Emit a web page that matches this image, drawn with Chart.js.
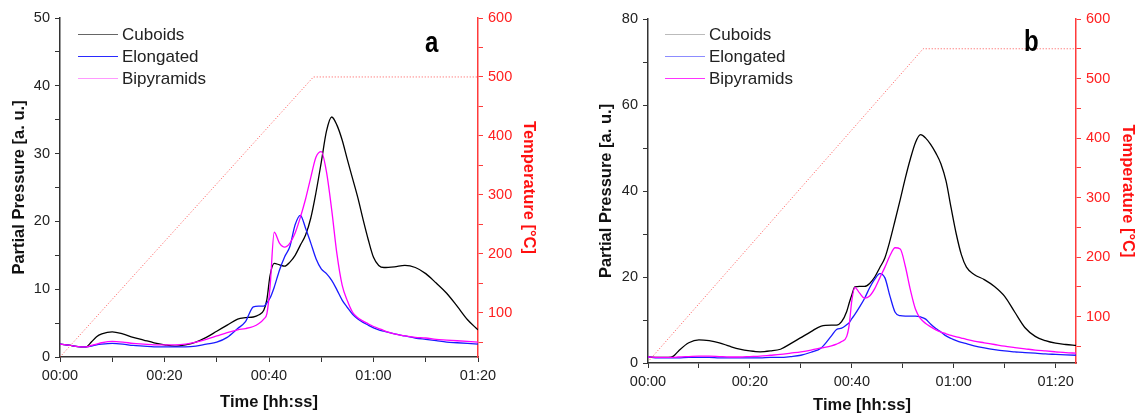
<!DOCTYPE html>
<html>
<head>
<meta charset="utf-8">
<script src="https://cdn.jsdelivr.net/npm/chart.js@4.4.0/dist/chart.umd.min.js"></script>
<style>
  html, body { margin: 0; padding: 0; background: #fff; }
  #wrap { position: relative; width: 1137px; height: 419px; overflow: hidden; font-family: "Liberation Sans", Arial, sans-serif; }
  .panel { position: absolute; top: 0; height: 419px; }
  #panelA { left: 0; width: 560px; }
  #panelB { left: 587px; width: 550px; }
  .panel canvas { position: absolute; left: 0; top: 0; }
  .legend-row { position: absolute; height: 22px; line-height: 22px; font-size: 17px; color: #222; white-space: nowrap; }
  .legend-row .swatch { position: absolute; left: 0; top: 10px; width: 40px; height: 0; border-top: 1.3px solid; }
  .legend-row .name { position: absolute; left: 44px; top: 0; }
  .tag { position: absolute; font: bold 30px "Liberation Sans", Arial, sans-serif; line-height: 30px; color: #000; transform: scaleX(0.8); transform-origin: left top; }
</style>
</head>
<body>
<div id="wrap">
  <div class="panel" id="panelA"><canvas id="chartA" width="560" height="419"></canvas></div>
  <div class="panel" id="panelB"><canvas id="chartB" width="550" height="419"></canvas></div>
  <div class="tag" style="left:425px; top:27px;">a</div>
  <div class="tag" style="left:1024px; top:26px;">b</div>
</div>
<script>
// Series names and time tick labels (minutes 0, 20, 40, 60, 80)
const seriesNames = ['Cuboids', 'Elongated', 'Bipyramids'];
const timeLabels = ['00:00', '00:20', '00:40', '01:00', '01:20'];

// Run a: time in minutes, partial pressures in a.u.
const timeA = [0, 2, 4, 5, 6, 7, 8,
  10, 12, 14, 16, 18, 20, 22, 24, 26, 28, 30, 32, 34,
  35.5, 37, 38, 39, 39.6, 40.2, 41, 42, 43, 44, 45, 46, 47, 48, 49, 50, 51, 52, 53, 54, 55, 56, 57, 58, 59, 60, 61, 62,
  64, 66, 68, 70, 72, 74, 76, 78, 80];
const cuboidsA = [1.9, 1.7, 1.5, 1.5, 2.2, 3.0, 3.4,
  3.7, 3.4, 2.9, 2.5, 2.1, 1.8, 1.6, 1.8, 2.2, 2.9, 3.8, 4.7, 5.6,
  5.8, 5.9, 6.2, 6.9, 8.5, 12.0, 13.8, 13.6, 13.4, 14.0, 15.0, 16.5, 18.0, 20.5, 24.3, 28.7, 33.3, 35.4, 34.2, 32.0, 29.1, 26.3, 23.5, 20.3, 17.3, 14.7, 13.5, 13.2,
  13.3, 13.5, 13.2, 12.3, 10.9, 9.4, 7.5, 5.5, 4.0];
const elongatedA = [1.9, 1.7, 1.5, 1.5, 1.6, 1.8, 1.9,
  2.0, 1.9, 1.7, 1.6, 1.5, 1.5, 1.5, 1.5, 1.6, 1.9, 2.2, 2.9, 4.2,
  5.2, 7.4, 7.5, 7.5, 8.0, 8.7, 10.3, 12.8, 14.8, 16.3, 19.5, 20.9, 19.0, 16.8, 14.5, 13.0, 12.3, 11.3, 9.9, 8.4, 7.3, 6.3, 5.6, 5.1, 4.7, 4.3, 4.0, 3.8,
  3.4, 3.1, 2.8, 2.6, 2.4, 2.2, 2.1, 2.0, 1.9];
const bipyramidsA = [1.9, 1.7, 1.5, 1.5, 1.7, 1.9, 2.1,
  2.3, 2.2, 2.0, 1.9, 1.8, 1.8, 1.8, 1.9, 2.2, 2.6, 3.1, 3.6, 4.0,
  4.2, 4.5, 4.9, 5.6, 6.4, 10.3, 18.4, 16.8, 16.2, 16.8, 18.3, 20.6, 23.3, 26.5, 29.5, 30.3, 27.3, 21.7, 15.2, 10.6, 8.3, 6.6, 5.8, 5.3, 4.9, 4.5, 4.2, 3.9,
  3.4, 3.1, 2.9, 2.8, 2.6, 2.5, 2.4, 2.3, 2.2];
// Run a: heating ramp (°C)
const tempTimeA = [0, 48.5, 80];
const tempA = [25, 500, 500];

// Run b
const timeB = [0, 2, 4, 5, 6, 8, 10, 12, 14, 16,
  18, 20, 22, 24, 26, 28, 30, 32, 34, 36,
  37, 38, 39, 39.5, 40, 40.6, 41.5, 42.5, 43.5, 44.5,
  45.5, 46.5, 47.5, 48.5, 49.5, 50.5, 51.5, 52.5, 53.5, 54.5,
  55.5, 56.5, 57.5, 58.5, 59.5, 60.5, 61.5, 62.5, 64, 66,
  68, 70, 72, 74, 76, 78, 80, 82, 84];
const cuboidsB = [1.4, 1.3, 1.3, 1.6, 2.8, 4.7, 5.4, 5.2, 4.7, 3.9,
  3.2, 2.8, 2.6, 2.8, 3.2, 4.5, 5.9, 7.3, 8.6, 8.8,
  8.8, 9.6, 12.0, 14.0, 15.8, 17.7, 17.8, 17.8, 18.5, 20.0,
  22.2, 24.5, 28.5, 33.2, 38.0, 43.0, 47.5, 51.3, 53.1, 52.3,
  50.8, 48.8, 46.3, 42.3, 36.0, 30.0, 25.2, 22.3, 20.6, 19.4,
  17.8, 15.5, 11.8, 8.2, 6.2, 5.2, 4.6, 4.3, 4.1];
const elongatedB = [1.4, 1.2, 1.2, 1.2, 1.2, 1.3, 1.3, 1.3, 1.2, 1.2,
  1.2, 1.2, 1.2, 1.3, 1.3, 1.5, 1.8, 2.5, 3.5, 6.3,
  7.8, 8.1, 8.9, 9.4, 10.3, 11.3, 13.0, 15.0, 17.5, 19.5,
  20.8, 19.8, 15.5, 11.8, 11.0, 10.9, 10.9, 10.9, 10.7, 10.2,
  9.0, 8.0, 7.2, 6.3, 5.7, 5.2, 4.8, 4.5, 4.0, 3.5,
  3.1, 2.8, 2.6, 2.4, 2.3, 2.1, 2.0, 1.9, 1.8];
const bipyramidsB = [1.4, 1.3, 1.3, 1.3, 1.4, 1.5, 1.6, 1.6, 1.5, 1.4,
  1.4, 1.5, 1.6, 1.8, 2.0, 2.3, 2.6, 3.0, 3.5, 4.0,
  4.4, 5.0, 6.2, 9.0, 14.5, 17.6, 16.3, 15.1, 15.6, 17.3,
  19.8, 22.3, 25.0, 26.8, 26.5, 22.5, 17.0, 12.5, 10.3, 9.2,
  8.4, 7.7, 7.2, 6.8, 6.4, 6.1, 5.8, 5.5, 5.1, 4.7,
  4.3, 3.9, 3.6, 3.3, 3.0, 2.8, 2.6, 2.4, 2.3];
const tempTimeB = [0.3, 54, 84];
const tempB = [27, 550, 550];

const tickFont = { family: '"Liberation Sans", Arial, sans-serif', size: 14.5 };
const titleFont = { family: '"Liberation Sans", Arial, sans-serif', size: 16.5, weight: 'bold' };
const axisGrey = '#333333';
const axisRed = '#ff3b3b';

function pairs(xs, ys) {
  return xs.map((x, i) => ({ x: x, y: ys[i] }));
}

function timeTick(v) {
  return v % 20 === 0 ? timeLabels[v / 20] : '';
}

function pressureChart(canvasId, run, box) {
  const lineStyle = { pointRadius: 0, borderWidth: 1.3, cubicInterpolationMode: 'monotone', fill: false };
  const datasets = [
    { label: 'Temperature', data: pairs(run.tempTime, run.temp), yAxisID: 'y2',
      borderColor: 'rgba(255,40,40,0.8)', borderWidth: 1, borderDash: [1, 2], pointRadius: 0, tension: 0 },
    Object.assign({ label: seriesNames[2], data: pairs(run.time, run.bipyramids), borderColor: '#ff00ff' }, lineStyle),
    Object.assign({ label: seriesNames[1], data: pairs(run.time, run.elongated), borderColor: '#1a1aff' }, lineStyle),
    Object.assign({ label: seriesNames[0], data: pairs(run.time, run.cuboids), borderColor: '#000000' }, lineStyle)
  ];

  new Chart(document.getElementById(canvasId), {
    type: 'line',
    data: { datasets: datasets },
    options: {
      responsive: false,
      animation: false,
      layout: { padding: { top: box.top, left: 0, right: 0, bottom: 0 } },
      plugins: { legend: { display: false }, tooltip: { enabled: false } },
      scales: {
        x: {
          type: 'linear', min: 0, max: run.tMax,
          afterFit: s => { s.height = box.xHeight; },
          ticks: { stepSize: 10, autoSkip: false, includeBounds: false, maxRotation: 0,
            padding: box.xPad, color: '#222', font: tickFont, callback: timeTick },
          grid: { drawOnChartArea: false, drawTicks: true, tickLength: 5, color: axisGrey },
          border: { display: true, color: axisGrey, width: 1.5 },
          title: { display: true, text: 'Time [hh:ss]', color: '#111', font: titleFont,
            padding: { top: 0, bottom: box.xTitlePad } }
        },
        y: {
          position: 'left', min: 0, max: run.pMax,
          afterFit: s => { s.width = box.yWidth; },
          ticks: { stepSize: run.pStep / 2, includeBounds: false, padding: 5, color: '#222', font: tickFont,
            callback: v => (v % run.pStep === 0 ? v : '') },
          grid: { drawOnChartArea: false, drawTicks: true, tickLength: 5, color: axisGrey },
          border: { display: true, color: axisGrey, width: 1.5 },
          title: { display: true, text: 'Partial Pressure [a. u.]', color: '#111', font: titleFont,
            padding: { top: box.yTitlePad, bottom: 0 } }
        },
        y2: {
          position: 'right', min: run.tempMin, max: 600,
          afterFit: s => { s.width = box.y2Width; },
          ticks: { stepSize: 50, includeBounds: false, padding: 5, color: '#ff2020', font: tickFont,
            callback: v => (v % 100 === 0 ? v : '') },
          grid: { drawOnChartArea: false, drawTicks: true, tickLength: 5, color: axisRed },
          border: { display: true, color: axisRed, width: 1.5 },
          title: { display: true, text: 'Temperature [°C]', color: '#ff1010', font: titleFont,
            padding: { top: box.y2TitlePad, bottom: 0 } }
        }
      }
    }
  });
}

// Legend rows drawn inside each plot
function buildLegend(panelId, colors) {
  const panel = document.getElementById(panelId);
  seriesNames.forEach((name, i) => {
    const row = document.createElement('div');
    row.className = 'legend-row';
    row.style.left = '78px';
    row.style.top = (23.5 + i * 22) + 'px';
    const sw = document.createElement('span');
    sw.className = 'swatch';
    sw.style.borderColor = colors[i];
    const label = document.createElement('span');
    label.className = 'name';
    label.textContent = name;
    row.appendChild(sw);
    row.appendChild(label);
    panel.appendChild(row);
  });
}

pressureChart('chartA',
  { time: timeA, cuboids: cuboidsA, elongated: elongatedA, bipyramids: bipyramidsA,
    tempTime: tempTimeA, temp: tempA, tMax: 80, pMax: 50, pStep: 10, tempMin: 25 },
  { top: 18, xHeight: 62, yWidth: 60, y2Width: 82, xPad: 5, xTitlePad: 7, yTitlePad: 10, y2TitlePad: 22 });

pressureChart('chartB',
  { time: timeB, cuboids: cuboidsB, elongated: elongatedB, bipyramids: bipyramidsB,
    tempTime: tempTimeB, temp: tempB, tMax: 84, pMax: 80, pStep: 20, tempMin: 22 },
  { top: 19, xHeight: 56, yWidth: 61, y2Width: 61, xPad: 5, xTitlePad: 4, yTitlePad: 10, y2TitlePad: 0 });

buildLegend('panelA', ['#666666', '#2a2aff', '#ff99ff']);
buildLegend('panelB', ['#bbbbbb', '#8c8cff', '#ff33ff']);
</script>
</body>
</html>
